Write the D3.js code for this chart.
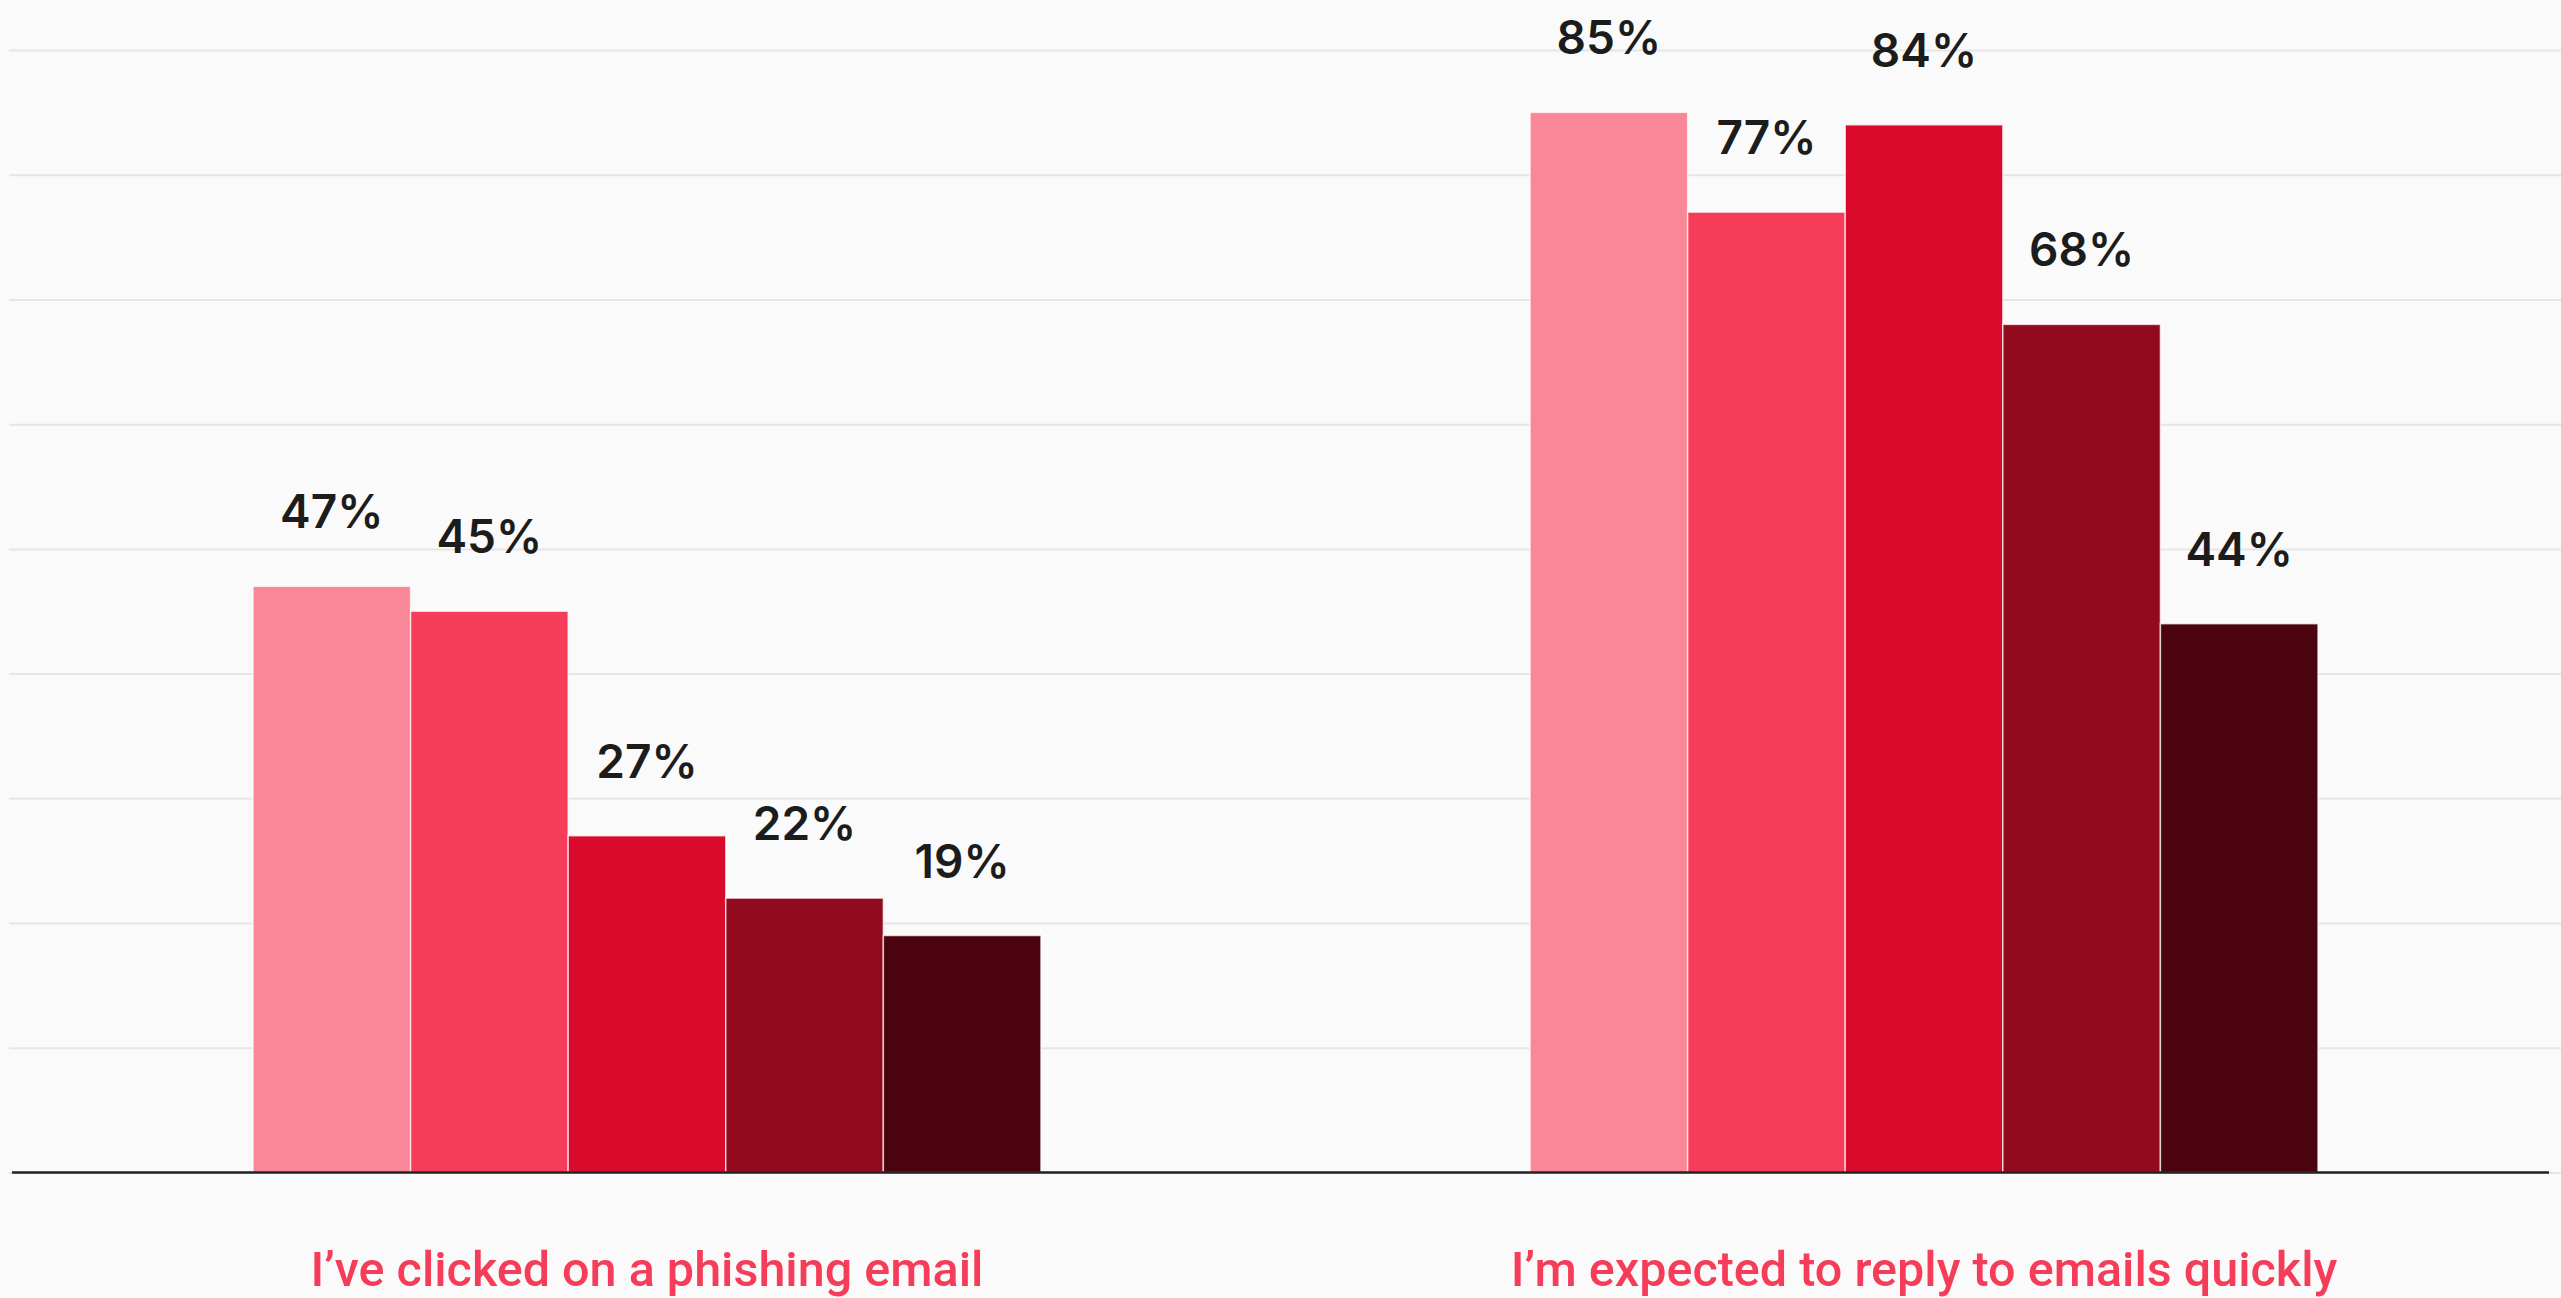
<!DOCTYPE html>
<html>
<head>
<meta charset="utf-8">
<script src="https://cdn.jsdelivr.net/npm/d3@7"></script>
<style>
  html, body { margin: 0; padding: 0; background: #fafafa; }
  svg { display: block; }
</style>
</head>
<body>
<div id="chart"></div>
<script>
// Chart data
const categories = ["I’ve clicked on a phishing email", "I’m expected to reply to emails quickly"];
const seriesNames = ["18-30", "31-40", "41-50", "51-60", "60+"];
const seriesColors = ["#f98797", "#f53d5a", "#d90a2c", "#910a1e", "#4a030f"];
const clickedValues = [47, 45, 27, 22, 19];
const replyValues = [85, 77, 84, 68, 44];
const gridTicks = [0, 10, 20, 30, 40, 50, 60, 70, 80, 90];

const rows = [clickedValues, replyValues].map((vals, i) => ({
  category: categories[i],
  values: vals.map((v, j) => ({ key: seriesNames[j], value: v }))
}));

const width = 2561;
const height = 1298;

const svg = d3.select('#chart').append('svg')
  .attr('width', width)
  .attr('height', height);

svg.append('rect')
  .attr('width', width)
  .attr('height', height)
  .attr('fill', '#fafafa');

// Scales
const x0 = d3.scaleBand()
  .domain(categories)
  .range([253, 2318])
  .paddingInner(0.383)
  .paddingOuter(0);

const x1 = d3.scaleBand()
  .domain(seriesNames)
  .range([0, x0.bandwidth()]);

const y = d3.scaleLinear()
  .domain([0, 90])
  .range([1172.5, 50]);

const color = d3.scaleOrdinal()
  .domain(seriesNames)
  .range(seriesColors);

// Gridlines
svg.append('g')
  .attr('transform', 'translate(9,0)')
  .call(d3.axisLeft(y).tickValues(gridTicks).tickSize(-(width - 9)).tickFormat(''))
  .call(g => g.select('.domain').remove())
  .call(g => g.selectAll('.tick line').attr('stroke', '#e6e6e6').attr('stroke-width', 2));

// Bars
const group = svg.append('g')
  .selectAll('g')
  .data(rows)
  .join('g')
  .attr('transform', d => `translate(${x0(d.category)},0)`);

group.selectAll('rect')
  .data(d => d.values)
  .join('rect')
  .attr('x', d => x1(d.key))
  .attr('y', d => y(d.value))
  .attr('width', x1.bandwidth())
  .attr('height', d => y(0) - y(d.value))
  .attr('fill', d => color(d.key))
  .attr('stroke', 'rgba(255,255,255,0.7)')
  .attr('stroke-width', 1.5);

// Value labels
group.selectAll('text')
  .data(d => d.values)
  .join('text')
  .attr('x', d => x1(d.key) + x1.bandwidth() / 2)
  .attr('y', d => y(d.value) - 58)
  .attr('text-anchor', 'middle')
  .style('font-family', 'Inter, Roboto, sans-serif')
  .style('font-weight', 600)
  .style('font-size', '46px')
  .attr('fill', '#1c1c1c')
  .text(d => d.value + '%');

// Baseline
svg.append('line')
  .attr('x1', 12)
  .attr('x2', 2549)
  .attr('y1', y(0))
  .attr('y2', y(0))
  .attr('stroke', '#222')
  .attr('stroke-width', 2.5);

// Category labels
svg.append('g')
  .selectAll('text')
  .data(categories)
  .join('text')
  .attr('x', d => x0(d) + x0.bandwidth() / 2)
  .attr('y', 1286)
  .attr('text-anchor', 'middle')
  .style('font-family', 'Roboto, sans-serif')
  .style('font-weight', 500)
  .style('font-size', '48.5px')
  .attr('fill', '#f53d5a')
  .text(d => d);
</script>
</body>
</html>
